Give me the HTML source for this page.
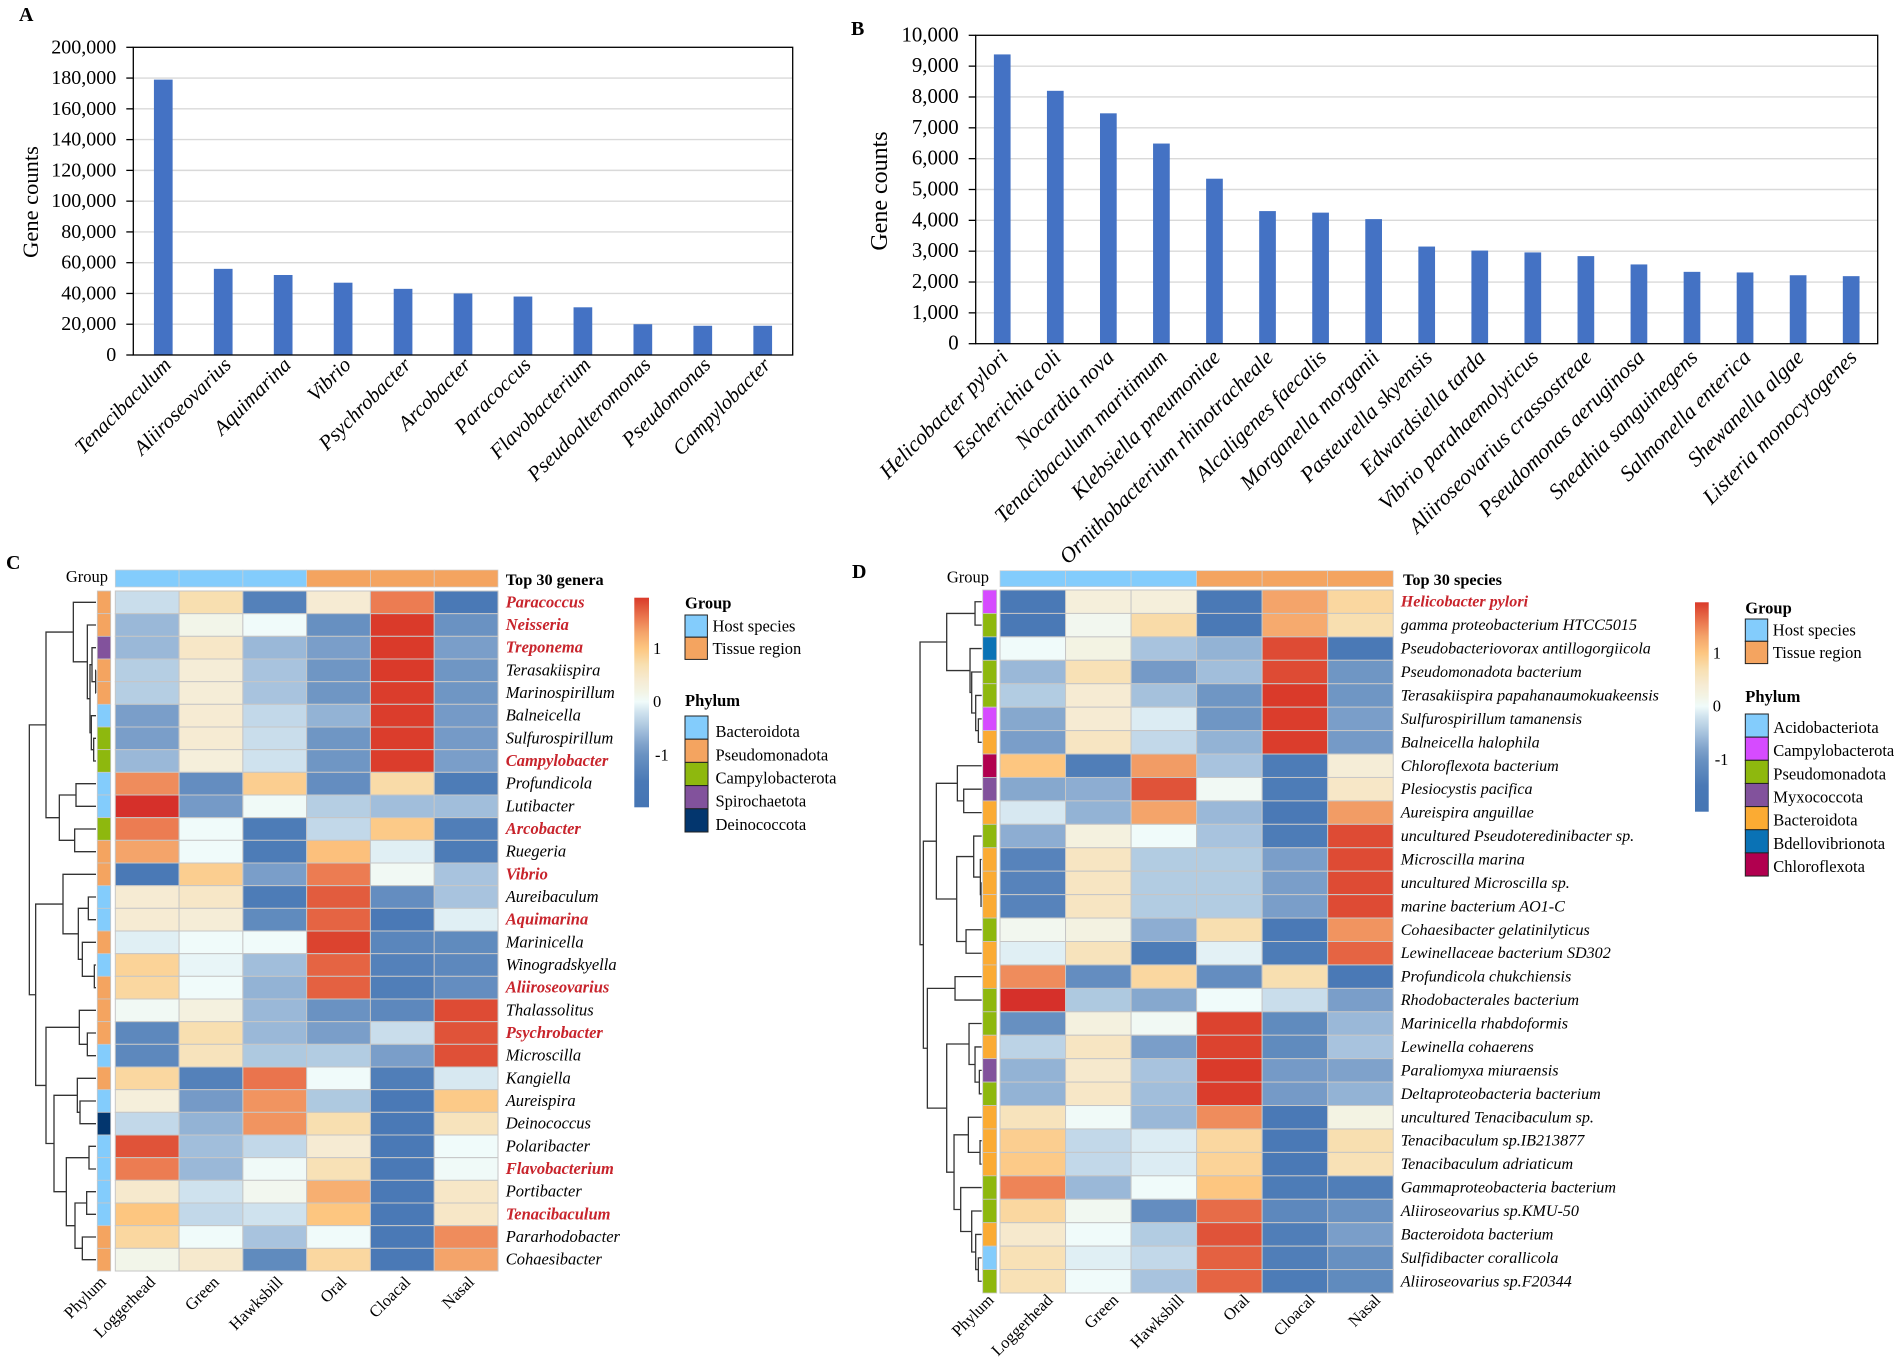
<!DOCTYPE html>
<html lang="en">
<head>
<meta charset="utf-8">
<title>Gene counts and abundance heatmaps</title>
<style>
html,body{margin:0;padding:0;background:#fff;}
svg{display:block;font-family:"Liberation Serif","Times New Roman",serif;}
</style>
</head>
<body>
<svg id="figure" xmlns="http://www.w3.org/2000/svg" width="1902" height="1363" viewBox="0 0 1902 1363"></svg>
<script>
/* ---------- Panel A data ---------- */
const barACategories = ["Tenacibaculum","Aliiroseovarius","Aquimarina","Vibrio","Psychrobacter","Arcobacter","Paracoccus","Flavobacterium","Pseudoalteromonas","Pseudomonas","Campylobacter"];
const barAValues = [179000,56000,52000,47000,43000,40000,38000,31000,20000,19000,19000];
const barATicks = [0,20000,40000,60000,80000,100000,120000,140000,160000,180000,200000];

/* ---------- Panel B data ---------- */
const barBCategories = ["Helicobacter pylori","Escherichia coli","Nocardia nova","Tenacibaculum maritimum","Klebsiella pneumoniae","Ornithobacterium rhinotracheale","Alcaligenes faecalis","Morganella morganii","Pasteurella skyensis","Edwardsiella tarda","Vibrio parahaemolyticus","Aliiroseovarius crassostreae","Pseudomonas aeruginosa","Sneathia sanguinegens","Salmonella enterica","Shewanella algae","Listeria monocytogenes"];
const barBValues = [9380,8200,7470,6490,5350,4300,4250,4040,3150,3020,2960,2840,2570,2330,2310,2220,2190];
const barBTicks = [0,1000,2000,3000,4000,5000,6000,7000,8000,9000,10000];

/* ---------- Heatmap shared data ---------- */
const heatColumns = ["Loggerhead","Green","Hawksbill","Oral","Cloacal","Nasal"];
const groupColumns = ["Host species","Host species","Host species","Tissue region","Tissue region","Tissue region"];
const groupNames = ["Host species","Tissue region"];
const scaleTicks = [1,0,-1];
const scaleValues = [-2,-1.5,-1,-0.8,-0.6,-0.4,-0.2,0,0.2,0.4,0.7,1,1.3,1.55,1.75,1.95,2];
const scaleColors = ["#4575b4","#4a79b6","#6a92c2","#7fa2cb","#9ab8d8","#b5cee3","#cfe2ee","#f0fbfa","#f3f3e3","#f6ebd3","#f8dfb0","#fdc680","#f4a46a","#ec7c52","#e25c3e","#da3a2a","#d6302a"];

/* ---------- Panel C data ---------- */
const cGenera = ["Paracoccus","Neisseria","Treponema","Terasakiispira","Marinospirillum","Balneicella","Sulfurospirillum","Campylobacter","Profundicola","Lutibacter","Arcobacter","Ruegeria","Vibrio","Aureibaculum","Aquimarina","Marinicella","Winogradskyella","Aliiroseovarius","Thalassolitus","Psychrobacter","Microscilla","Kangiella","Aureispira","Deinococcus","Polaribacter","Flavobacterium","Portibacter","Tenacibaculum","Pararhodobacter","Cohaesibacter"];
const cHighlighted = ["Paracoccus","Neisseria","Treponema","Campylobacter","Arcobacter","Vibrio","Aquimarina","Aliiroseovarius","Psychrobacter","Flavobacterium","Tenacibaculum"];
const cMatrix = [
[-.25,.7,-1.35,.4,1.55,-1.5],
[-.6,.15,0,-1.05,1.95,-1],
[-.6,.5,-.6,-.85,1.95,-.85],
[-.4,.35,-.5,-.95,1.95,-.95],
[-.4,.35,-.5,-.95,1.93,-.95],
[-.85,.4,-.3,-.65,1.93,-.9],
[-.85,.4,-.25,-.95,1.93,-.9],
[-.6,.3,-.2,-.95,1.93,-.85],
[1.45,-1.1,.9,-1.1,.75,-1.45],
[2,-.9,.03,-.4,-.55,-.55],
[1.55,0,-1.45,-.3,.95,-1.4],
[1.3,0,-1.45,1.05,-.1,-1.45],
[-1.5,.9,-.85,1.55,.05,-.5],
[.4,.5,-1.45,1.75,-1.1,-.5],
[.4,.35,-1.15,1.7,-1.5,-.1],
[-.1,0,0,1.9,-1.25,-1.15],
[.85,-.05,-.55,1.7,-1.35,-1.2],
[.8,0,-.65,1.72,-1.4,-1.1],
[.05,.25,-.6,-1,-1.2,1.85],
[-1.2,.7,-.6,-.85,-.25,1.8],
[-1.2,.6,-.45,-.42,-.85,1.82],
[.8,-1.35,1.6,0,-1.4,-.15],
[.3,-.9,1.4,-.45,-1.5,.95],
[-.3,-.65,1.4,.7,-1.5,.6],
[1.8,-.55,-.3,.4,-1.5,0],
[1.55,-.6,.02,.65,-1.5,.02],
[.45,-.2,.1,1.2,-1.55,.5],
[1,-.3,-.2,1,-1.55,.5],
[.8,0,-.5,0,-1.5,1.45],
[.15,.45,-1.15,.8,-1.5,1.3]
];
const cPhylumNames = ["Bacteroidota","Pseudomonadota","Campylobacterota","Spirochaetota","Deinococcota"];
const cPhylumColors = ["#83ccfc","#f4a460","#8eb80e","#82529c","#03366e"];
const cRowPhylum = [1,1,3,1,1,0,2,2,0,0,2,1,1,0,0,1,0,1,1,1,0,1,0,4,0,0,0,0,1,1];
const cTree = [200,
  [150,
    [68,0,[26,1,[18,[12,2,[1,3,4]],[14,5,[7,6,7]]]]],
    [110,[60,8,9],[64,10,11]]],
  [181,
    [99,12,[53,[23,13,14],[41,15,[5,16,17]]]],
    [150,[50,18,[26,19,20]],[126,[56,21,[48,22,23]],[89,[21,24,25],[63,[28,26,27],[41,28,29]]]]]]
];

/* ---------- Panel D data ---------- */
const dSpecies = ["Helicobacter pylori","gamma proteobacterium HTCC5015","Pseudobacteriovorax antillogorgiicola","Pseudomonadota bacterium","Terasakiispira papahanaumokuakeensis","Sulfurospirillum tamanensis","Balneicella halophila","Chloroflexota bacterium","Plesiocystis pacifica","Aureispira anguillae","uncultured Pseudoteredinibacter sp.","Microscilla marina","uncultured Microscilla sp.","marine bacterium AO1-C","Cohaesibacter gelatinilyticus","Lewinellaceae bacterium SD302","Profundicola chukchiensis","Rhodobacterales bacterium","Marinicella rhabdoformis","Lewinella cohaerens","Paraliomyxa miuraensis","Deltaproteobacteria bacterium","uncultured Tenacibaculum sp.","Tenacibaculum sp.IB213877","Tenacibaculum adriaticum","Gammaproteobacteria bacterium","Aliiroseovarius sp.KMU-50","Bacteroidota bacterium","Sulfidibacter corallicola","Aliiroseovarius sp.F20344"];
const dHighlighted = ["Helicobacter pylori"];
const dMatrix = [
[-1.5,.3,.3,-1.5,1.3,.8],
[-1.5,.1,.75,-1.5,1.25,.7],
[0,.2,-.5,-.65,1.85,-1.5],
[-.6,.65,-.9,-.55,1.85,-.95],
[-.42,.4,-.52,-.95,1.95,-.95],
[-.75,.4,-.12,-.95,1.93,-.85],
[-.85,.55,-.3,-.65,1.93,-.9],
[1,-1.4,1.35,-.5,-1.45,.35],
[-.75,-.7,1.8,.05,-1.45,.5],
[-.15,-.65,1.3,-.6,-1.5,1.35],
[-.7,.25,0,-.5,-1.45,1.85],
[-1.3,.55,-.42,-.42,-.85,1.85],
[-1.3,.55,-.42,-.42,-.85,1.85],
[-1.3,.55,-.42,-.42,-.85,1.85],
[.1,.22,-.7,.7,-1.5,1.4],
[-.1,.6,-1.45,-.08,-1.45,1.7],
[1.45,-1.1,.8,-1.1,.7,-1.5],
[2,-.45,-.75,0,-.25,-.85],
[-1.05,.25,.05,1.9,-1.15,-.6],
[-.35,.55,-.85,1.9,-1.15,-.5],
[-.65,.45,-.5,1.95,-.9,-.8],
[-.65,.5,-.55,1.93,-.9,-.65],
[.6,.02,-.6,1.45,-1.55,.2],
[.9,-.3,-.12,.8,-1.55,.7],
[.95,-.3,-.12,.85,-1.55,.65],
[1.5,-.6,0,1,-1.45,-1.4],
[.8,.08,-1.1,1.65,-1.2,-1],
[.45,0,-.42,1.8,-1.4,-.85],
[.65,-.1,-.3,1.72,-1.4,-1.05],
[.65,0,-.5,1.7,-1.45,-1.15]
];
const dPhylumNames = ["Acidobacteriota","Campylobacterota","Pseudomonadota","Myxococcota","Bacteroidota","Bdellovibrionota","Chloroflexota"];
const dPhylumColors = ["#83ccfc","#d64bff","#8eb80e","#82529c","#fbab33","#0a72b5","#b1004f"];
const dRowPhylum = [1,2,5,2,2,1,4,6,3,4,2,4,4,4,2,4,4,2,2,4,3,2,4,4,4,2,2,4,0,2];
const dTree = [185,
  [105,[20,0,1],[35,2,[30,3,[18,4,[10,5,6]]]]],
  [175,
    [136,[73,7,[54,8,9]],[75,[24,10,[4,11,[2,12,13]]],[47,14,15]]],
    [163,[80,16,17],[105,[38,18,[20,19,[7,20,21]]],[83,[40,22,[5,23,24]],[63,25,[30,26,[18,27,[10,28,29]]]]]]]]
];

/* ---------- Helpers ---------- */
const NS = "http://www.w3.org/2000/svg";
const figure = document.getElementById("figure");
function mk(tag, attrs, parent){
  const node = document.createElementNS(NS, tag);
  for(const k in attrs){ node.setAttribute(k, attrs[k]); }
  (parent || figure).appendChild(node);
  return node;
}
function hexToRgb(h){ return [parseInt(h.slice(1,3),16),parseInt(h.slice(3,5),16),parseInt(h.slice(5,7),16)]; }
function colorFor(v){
  const n = scaleValues.length;
  if(v <= scaleValues[0]) return scaleColors[0];
  if(v >= scaleValues[n-1]) return scaleColors[n-1];
  for(let i=1;i<n;i++){
    if(v <= scaleValues[i]){
      const t = (v-scaleValues[i-1])/(scaleValues[i]-scaleValues[i-1]);
      const a = hexToRgb(scaleColors[i-1]), b = hexToRgb(scaleColors[i]);
      return "rgb("+a.map((c,j)=>Math.round(c+(b[j]-c)*t)).join(",")+")";
    }
  }
}
function panelLetter(label,x,y){
  const el = mk("text",{x:x,y:y,"font-size":20,"font-weight":"bold",fill:"#000"});
  
  
  el.textContent = label;
}

/* ---------- Bar chart ---------- */
function drawBarChart(cfg, categories, values, ticks){
  const group = mk("g",{});
  
  
  const maxV = ticks[ticks.length-1];
  const yScale = v => cfg.bottom - (v/maxV)*(cfg.bottom-cfg.top);
  const band = (cfg.right-cfg.left)/categories.length;
  const xCenter = i => cfg.left + band*(i+0.5);

  ticks.forEach(t=>{
    const y = yScale(t);
    if(t>0 && t<maxV){
      const grid = mk("line",{x1:cfg.left,x2:cfg.right,y1:y,y2:y,stroke:"#d9d9d9","stroke-width":1.4},group);
      
      
    }
    const tick = mk("line",{x1:cfg.left-7,x2:cfg.left,y1:y,y2:y,stroke:"#000","stroke-width":1.3},group);
    
    
    const lab = mk("text",{x:cfg.left-17,y:y+6,"text-anchor":"end","font-size":cfg.tickSize,fill:"#000"},group);
    
    
    lab.textContent = t.toLocaleString("en-US");
  });

  values.forEach((v,i)=>{
    const y = yScale(v);
    const bar = mk("rect",{x:xCenter(i)-cfg.barWidth/2,y:y,width:cfg.barWidth,height:cfg.bottom-y,fill:"#4472c4"},group);
    
    
  });

  const frame = mk("rect",{x:cfg.left,y:cfg.top,width:cfg.right-cfg.left,height:cfg.bottom-cfg.top,fill:"none",stroke:"#000","stroke-width":1.3},group);
  
  

  categories.forEach((c,i)=>{
    const ax = xCenter(i)+cfg.labelDx, ay = cfg.bottom+cfg.labelDy;
    const lab = mk("text",{x:ax,y:ay,"text-anchor":"end","font-size":cfg.labelSize,"font-style":"italic",fill:"#000",transform:"rotate("+cfg.labelAngle+" "+ax+" "+ay+")"},group);
    
    
    lab.textContent = c;
  });

  const tx = cfg.titleX, ty = cfg.titleY;
  const title = mk("text",{x:tx,y:ty,"text-anchor":"middle","font-size":cfg.titleSize,fill:"#000",transform:"rotate(-90 "+tx+" "+ty+")"},group);
  
  
  title.textContent = "Gene counts";
}

/* ---------- Dendrogram ---------- */
function drawTree(node, parent, xBase, hScale, rowY){
  if(typeof node === "number"){ return {x:xBase, y:rowY(node)}; }
  const a = drawTree(node[1],parent,xBase,hScale,rowY);
  const b = drawTree(node[2],parent,xBase,hScale,rowY);
  const x = xBase - node[0]*hScale;
  const p = mk("path",{d:"M"+a.x+" "+a.y+"H"+x+"V"+b.y+"H"+b.x,fill:"none",stroke:"#333","stroke-width":1.3},parent);
  
  
  return {x:x, y:(a.y+b.y)/2};
}

/* ---------- Heatmap ---------- */
function drawHeatmap(cfg, rows, highlighted, matrix, rowPhylum, phylumColors, phylumNames, tree){
  const group = mk("g",{});
  
  
  const colW = (cfg.right-cfg.left)/heatColumns.length;
  const rowH = (cfg.bottom-cfg.top)/rows.length;
  const xPos = j => cfg.left + j*colW;
  const yPos = i => cfg.top + i*rowH;
  const groupFill = ["#83ccfc","#f4a460"];

  const groupLabel = mk("text",{x:cfg.groupLabelX,y:cfg.groupTop+12,"text-anchor":"end","font-size":16.5,fill:"#000"},group);
  
  
  groupLabel.textContent = "Group";

  groupColumns.forEach((g,j)=>{
    const c = mk("rect",{x:xPos(j),y:cfg.groupTop,width:colW,height:cfg.groupBottom-cfg.groupTop,fill:groupFill[groupNames.indexOf(g)],stroke:"#cfcfcf","stroke-width":.7},group);
    
    
  });

  matrix.forEach((row,i)=>{
    const ph = mk("rect",{x:cfg.phylumLeft,y:yPos(i),width:cfg.phylumRight-cfg.phylumLeft,height:rowH,fill:phylumColors[rowPhylum[i]],stroke:"#c8c8c8","stroke-width":.8},group);
    
    
    row.forEach((v,j)=>{
      const c = mk("rect",{x:xPos(j),y:yPos(i),width:colW,height:rowH,fill:colorFor(v),stroke:"#c6c6c6","stroke-width":1},group);
      
      
    });
    const isRed = highlighted.indexOf(rows[i])>=0;
    const lab = mk("text",{x:cfg.labelX,y:yPos(i)+rowH/2+5,"font-size":cfg.labelSize,"font-style":"italic","font-weight":isRed?"bold":"normal",fill:isRed?"#c8242c":"#000"},group);
    
    
    lab.textContent = rows[i];
  });

  const heading = mk("text",{x:cfg.headX,y:585,"font-size":16.3,"font-weight":"bold",fill:"#000"},group);
  
  
  heading.textContent = cfg.heading;

  const bottomNames = ["Phylum"].concat(heatColumns);
  bottomNames.forEach((n,k)=>{
    const cx = k===0 ? (cfg.phylumLeft+cfg.phylumRight)/2 : xPos(k-1)+colW/2;
    const ax = cx+(k===0?cfg.phylumLabelDx:cfg.colLabelDx), ay = cfg.bottom+cfg.colLabelDy;
    const t = mk("text",{x:ax,y:ay,"text-anchor":"end","font-size":16.5,fill:"#000",transform:"rotate(-45 "+ax+" "+ay+")"},group);
    
    
    t.textContent = n;
  });

  const treeGroup = mk("g",{},group);
  
  
  drawTree(tree,treeGroup,cfg.treeBase,1/3,i=>yPos(i)+rowH/2);

  /* colour scale */
  const gradId = "scale-"+cfg.id;
  const defs = mk("defs",{},group);
  const grad = mk("linearGradient",{id:gradId,x1:0,y1:1,x2:0,y2:0},defs);
  const sMin = -1.98, sMax = 1.95;
  scaleValues.forEach((v,i)=>{
    mk("stop",{offset:Math.max(0,Math.min(1,(v-sMin)/(sMax-sMin))),"stop-color":scaleColors[i]},grad);
  });
  const bar = mk("rect",{x:cfg.barX,y:cfg.barTop,width:cfg.barW,height:cfg.barBottom-cfg.barTop,fill:"url(#"+gradId+")"},group);
  
  
  const sY = v => cfg.barBottom - (v-sMin)/(sMax-sMin)*(cfg.barBottom-cfg.barTop);
  scaleTicks.forEach(v=>{
    const t = mk("text",{x:cfg.barX+cfg.barW+(v<0?6:4),y:sY(v)+5.5,"font-size":16.5,fill:"#000"},group);
    
    
    t.textContent = String(v);
  });

  /* legends */
  const gt = mk("text",{x:cfg.legX,y:cfg.legGroupY,"font-size":16.5,"font-weight":"bold",fill:"#000"},group);
  
  
  gt.textContent = "Group";
  groupNames.forEach((n,i)=>{
    const r = mk("rect",{x:cfg.legX,y:cfg.legGroupTop+i*cfg.legGroupStep,width:22.4,height:cfg.legGroupStep,fill:groupFill[i],stroke:"#222","stroke-width":1},group);
    
    
    const t = mk("text",{x:cfg.legX+27.5,y:cfg.legGroupTop+i*cfg.legGroupStep+cfg.legGroupStep/2+5.5,"font-size":16.5,fill:"#000"},group);
    
    
    t.textContent = n;
  });
  const pt = mk("text",{x:cfg.legX,y:cfg.legPhylumY,"font-size":16.5,"font-weight":"bold",fill:"#000"},group);
  
  
  pt.textContent = "Phylum";
  phylumNames.forEach((n,i)=>{
    const r = mk("rect",{x:cfg.legX,y:cfg.legPhylumTop+i*cfg.legPhylumStep,width:23,height:cfg.legPhylumStep,fill:phylumColors[i],stroke:"#222","stroke-width":1},group);
    
    
    const t = mk("text",{x:cfg.legX+cfg.legPhylumDx,y:cfg.legPhylumTop+i*cfg.legPhylumStep+cfg.legPhylumStep/2+cfg.legPhylumTextDy,"font-size":16.5,fill:"#000"},group);
    
    
    t.textContent = n;
  });
}

/* ---------- Compose ---------- */
panelLetter("A",19,21);
panelLetter("B",851,35);
panelLetter("C",6,569);
panelLetter("D",852,578);

drawBarChart({id:"a",left:133.3,right:792.7,top:47.3,bottom:355,barWidth:18.7,tickSize:20,labelSize:20.8,labelAngle:-45,labelDx:9,labelDy:11,titleX:38,titleY:202,titleSize:22.5},barACategories,barAValues,barATicks);
drawBarChart({id:"b",left:975.7,right:1877.7,top:35.3,bottom:343.7,barWidth:16.7,tickSize:20.8,labelSize:21.8,labelAngle:-45,labelDx:7,labelDy:15,titleX:887,titleY:191,titleSize:24},barBCategories,barBValues,barBTicks);

drawHeatmap({id:"c",left:115.3,right:498,top:591,bottom:1271,groupTop:570,groupBottom:587,groupLabelX:108,phylumLeft:97.3,phylumRight:110.7,labelX:505.7,labelSize:16.5,headX:505.7,heading:"Top 30 genera",colLabelDx:9,phylumLabelDx:3,colLabelDy:12,treeBase:96,barX:634.3,barW:14.7,barTop:597.7,barBottom:807.3,legX:685,legGroupY:608.5,legGroupTop:615,legGroupStep:22.2,legPhylumY:706,legPhylumTop:716,legPhylumStep:23.2,legPhylumDx:30.5,legPhylumTextDy:9.5},cGenera,cHighlighted,cMatrix,cRowPhylum,cPhylumColors,cPhylumNames,cTree);

drawHeatmap({id:"d",left:1000,right:1393.2,top:590,bottom:1293,groupTop:570.7,groupBottom:586.7,groupLabelX:989,phylumLeft:982.7,phylumRight:996.7,labelX:1400.7,labelSize:16.1,headX:1403,heading:"Top 30 species",colLabelDx:21,phylumLabelDx:5,colLabelDy:8,treeBase:981.7,barX:1695,barW:13.7,barTop:602.3,barBottom:811.7,legX:1745.3,legGroupY:613.5,legGroupTop:619,legGroupStep:22.3,legPhylumY:702,legPhylumTop:714,legPhylumStep:23.15,legPhylumDx:28,legPhylumTextDy:7.5},dSpecies,dHighlighted,dMatrix,dRowPhylum,dPhylumColors,dPhylumNames,dTree);
</script>
</body>
</html>
